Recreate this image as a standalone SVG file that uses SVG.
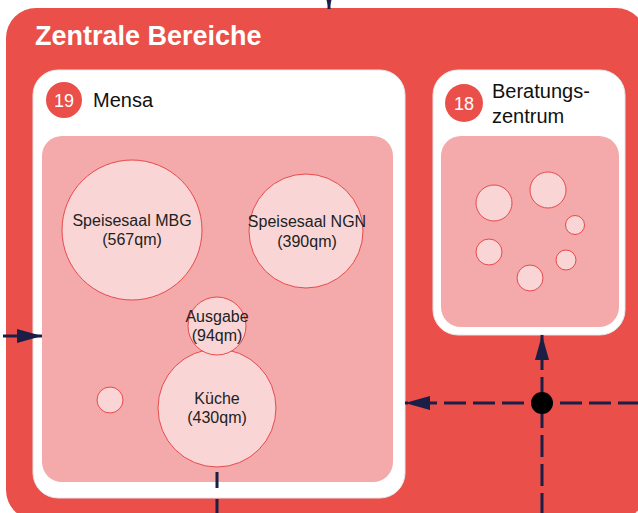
<svg xmlns="http://www.w3.org/2000/svg" width="638" height="513" viewBox="0 0 638 513">
<style>
.outer{fill:#EA4F4A}
.card{fill:#FFFFFF;stroke:#E6E6E6;stroke-width:1}
.inner{fill:#F4A9AA}
.room{fill:#F9D5D6;stroke:#E8494A;stroke-width:1}
.badge{fill:#EA4F4A}
.badgetxt{font-family:"Liberation Sans",Arial,sans-serif;font-size:18px;fill:#FFFFFF;text-anchor:middle}
.title{font-family:"Liberation Sans",Arial,sans-serif;font-size:27px;font-weight:bold;fill:#FFFFFF}
.label{font-family:"Liberation Sans",Arial,sans-serif;font-size:20px;fill:#111111}
.rtxt{font-family:"Liberation Sans",Arial,sans-serif;font-size:16px;fill:#222222;text-anchor:middle}
.conn{stroke:#1B1F45;stroke-width:3;fill:none}
.dash{stroke-dasharray:22 7}
</style>
<defs>
<marker id="arr" markerUnits="userSpaceOnUse" markerWidth="25" markerHeight="14" refX="25" refY="7" orient="auto">
<path d="M0,0 L25,7 L0,14 z" fill="#1B1F45"/>
</marker>
</defs>
<g id="zentrale-bereiche">
<rect class="outer" x="6" y="8" width="640" height="512" rx="30"/>
<text class="title" x="35" y="45">Zentrale Bereiche</text>
</g>
<g id="mensa">
<rect class="card" x="33" y="70" width="372" height="428" rx="25"/>
<rect class="inner" x="42" y="136" width="351" height="346" rx="20"/>
<circle class="badge" cx="64" cy="100" r="18"/>
<text class="badgetxt" x="64" y="106.5">19</text>
<text class="label" x="93" y="107">Mensa</text>
</g>
<g id="speisesaal-mbg">
<circle class="room" cx="132" cy="230" r="70"/>
<text class="rtxt" x="132" y="226">Speisesaal MBG</text>
<text class="rtxt" x="132" y="245">(567qm)</text>
</g>
<g id="speisesaal-ngn">
<circle class="room" cx="306" cy="231" r="57"/>
<text class="rtxt" x="307" y="227">Speisesaal NGN</text>
<text class="rtxt" x="307" y="247">(390qm)</text>
</g>
<g id="kueche">
<circle class="room" cx="217" cy="408" r="59"/>
<text class="rtxt" x="217" y="404">Küche</text>
<text class="rtxt" x="217" y="423">(430qm)</text>
</g>
<g id="ausgabe">
<circle class="room" cx="217" cy="326" r="29"/>
<text class="rtxt" x="217" y="322">Ausgabe</text>
<text class="rtxt" x="217" y="341">(94qm)</text>
</g>
<g id="mensa-klein">
<circle class="room" cx="110" cy="400" r="13"/>
</g>
<g id="beratungszentrum">
<rect class="card" x="433" y="70" width="192" height="265" rx="25"/>
<rect class="inner" x="441" y="136" width="178" height="191" rx="20"/>
<circle class="badge" cx="464" cy="103" r="19"/>
<text class="badgetxt" x="464" y="109.5">18</text>
<text class="label" x="492" y="98">Beratungs-</text>
<text class="label" x="492" y="123">zentrum</text>
<circle class="room" cx="494" cy="203" r="18"/>
<circle class="room" cx="548" cy="190" r="18"/>
<circle class="room" cx="575" cy="225" r="9.5"/>
<circle class="room" cx="489" cy="252" r="13"/>
<circle class="room" cx="566" cy="260" r="10"/>
<circle class="room" cx="530" cy="278" r="13"/>
</g>
<g id="connectors">
<line class="conn" x1="329" y1="-30" x2="329" y2="9" marker-end="url(#arr)"/>
<line class="conn" x1="3" y1="336" x2="42" y2="336" marker-end="url(#arr)"/>
<line class="conn" x1="217" y1="472" x2="217" y2="515" stroke-dasharray="16 11"/>
<line class="conn dash" x1="640" y1="403" x2="405" y2="403" marker-end="url(#arr)"/>
<line class="conn dash" x1="542" y1="515" x2="542" y2="335" marker-end="url(#arr)"/>
<circle cx="542" cy="403" r="11" fill="#000000"/>
</g>
</svg>
